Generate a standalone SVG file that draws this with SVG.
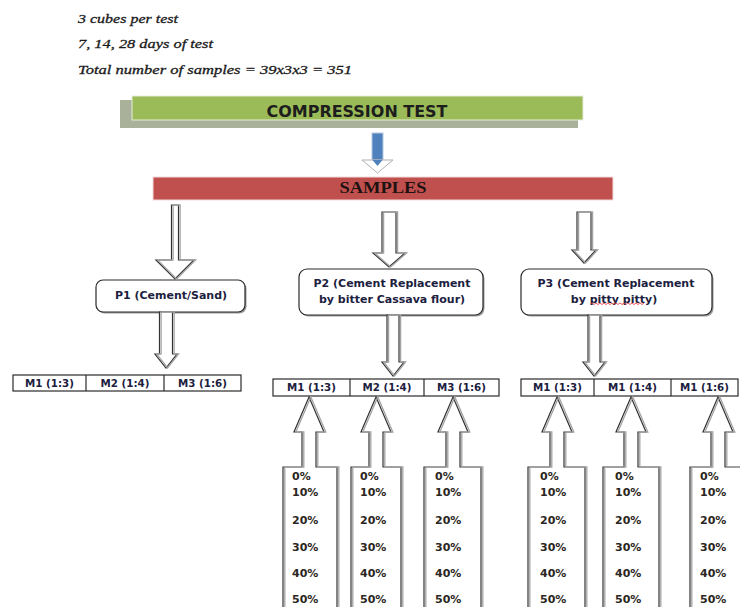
<svg xmlns="http://www.w3.org/2000/svg" xmlns:xlink="http://www.w3.org/1999/xlink" width="740" height="607" viewBox="0 0 740 607">
<style>
.note{font-family:"Liberation Serif","Times New Roman",serif;font-style:italic;font-size:13px;fill:#1a1a1a;stroke:#1a1a1a;stroke-width:0.3}
.sh{fill:none;stroke:#a3a3a3;stroke-width:1.3}
.ol{fill:#fff;stroke:#333;stroke-width:1.2}
.box{fill:#fff;stroke:#2a2a2a;stroke-width:1.2}
.lbl{font-family:"DejaVu Sans","Liberation Sans",sans-serif;font-weight:bold;font-size:11px;fill:#1c2140}
.mid{text-anchor:middle}
.m{font-size:10.3px}
.pct{font-family:"DejaVu Sans","Liberation Sans",sans-serif;font-weight:bold;font-size:11px;fill:#2b2622}
</style>
<defs>
<path id="d1" d="M171.5 205 V260 H156 L175 279 L194 260 H178.5 V205 Z"/>
<path id="d2" d="M382 212 V253 H373 L389 267 L405 253 H396 V212 Z"/>
<path id="d3" d="M577 212 V250 H572 L584 263 L596 250 H591 V212 Z"/>
<path id="d4" d="M159.5 312 V354 H155 L166 368 L177 354 H172.5 V312 Z"/>
<path id="d5" d="M387 315 V362 H382 L393 376 L404 362 H399 V315 Z"/>
<path id="d6" d="M588 315 V362 H583 L594 376 L605 362 H600 V315 Z"/>
<path id="u1" d="M283 612 V467 H302 V432 H294 L309 397 L324 432 H316 V467 H337 V612"/>
<path id="u2" d="M351 612 V467 H369 V432 H361 L376 397 L391 432 H383 V467 H401 V612"/>
<path id="u3" d="M424 612 V467 H446 V432 H438 L453 397 L468 432 H460 V467 H481 V612"/>
<path id="u4" d="M528 612 V467 H550 V432 H542 L557 397 L572 432 H564 V467 H585 V612"/>
<path id="u5" d="M603 612 V467 H624 V432 H616 L631 397 L646 432 H638 V467 H659 V612"/>
<path id="u6" d="M690 612 V467 H711 V432 H703 L718 397 L733 432 H725 V467 H746 V612"/>
</defs>

<g id="notes">
<text class="note" x="78" y="23" textLength="100" lengthAdjust="spacingAndGlyphs">3 cubes per test</text>
<text class="note" x="78" y="48" textLength="135" lengthAdjust="spacingAndGlyphs">7, 14, 28 days of test</text>
<text class="note" x="78" y="74" textLength="274" lengthAdjust="spacingAndGlyphs">Total number of samples = 39x3x3 = 351</text>
</g>

<g id="compression-test">
<rect x="120" y="100" width="458" height="28" fill="#a9b19a"/>
<rect x="132" y="96" width="451" height="24" fill="#9bbb59" stroke="#e6eedb" stroke-width="1"/>
<text x="357" y="116.5" text-anchor="middle" font-family="DejaVu Sans, Liberation Sans, sans-serif" font-weight="bold" font-size="15.5" fill="#1d1d1d" textLength="181" lengthAdjust="spacingAndGlyphs">COMPRESSION TEST</text>
</g>

<g id="samples">
<rect x="153" y="177" width="460" height="23" fill="#c0504d" stroke="#f2dcdb" stroke-width="1"/>
<text x="383" y="193" text-anchor="middle" font-family="Liberation Serif, Times New Roman, serif" font-weight="bold" font-size="16" fill="#1d1212" textLength="87" lengthAdjust="spacingAndGlyphs">SAMPLES</text>
</g>

<g id="p1">
<rect x="97.5" y="281.5" width="149" height="32" rx="7" fill="#9a9a9a"/>
<rect x="96" y="280" width="149" height="32" rx="7" class="box"/>
<text class="lbl mid" x="171" y="299">P1 (Cement/Sand)</text>
</g>

<g id="p2">
<rect x="300.5" y="270.5" width="184" height="46" rx="8" fill="#9a9a9a"/>
<rect x="299" y="269" width="184" height="46" rx="8" class="box"/>
<text class="lbl mid" x="392" y="287">P2 (Cement Replacement</text>
<text class="lbl mid" x="392" y="303">by bitter Cassava flour)</text>
</g>

<g id="p3">
<rect x="522.5" y="270.5" width="191" height="46" rx="8" fill="#9a9a9a"/>
<rect x="521" y="269" width="191" height="46" rx="8" class="box"/>
<text class="lbl mid" x="616" y="287">P3 (Cement Replacement</text>
<text class="lbl mid" x="614" y="303">by pitty pitty)</text>
<path d="M590 304.5 l2 -1.5 l2 1.5 l2 -1.5 l2 1.5 l2 -1.5 l2 1.5 l2 -1.5 l2 1.5 l2 -1.5 l2 1.5 l2 -1.5 l2 1.5 l2 -1.5 l2 1.5 l2 -1.5 l2 1.5 l2 -1.5 l2 1.5 l2 -1.5 l2 1.5 l2 -1.5 l2 1.5 l2 -1.5 l2 1.5 l2 -1.5 l2 1.5 l2 -1.5" fill="none" stroke="#e03030" stroke-width="0.8"/>
</g>

<g id="p1-mixes">
<rect x="13" y="375" width="228" height="16" class="box"/>
<line x1="86" y1="375" x2="86" y2="391" stroke="#2a2a2a" stroke-width="1.2"/>
<line x1="164" y1="375" x2="164" y2="391" stroke="#2a2a2a" stroke-width="1.2"/>
<text class="lbl m mid" x="49.5" y="387">M1 (1:3)</text>
<text class="lbl m mid" x="125" y="387">M2 (1:4)</text>
<text class="lbl m mid" x="202.5" y="387">M3 (1:6)</text>
</g>

<g id="p2-mixes">
<rect x="273" y="379" width="226" height="17" class="box"/>
<line x1="350" y1="379" x2="350" y2="396" stroke="#2a2a2a" stroke-width="1.2"/>
<line x1="424" y1="379" x2="424" y2="396" stroke="#2a2a2a" stroke-width="1.2"/>
<text class="lbl m mid" x="311.5" y="391">M1 (1:3)</text>
<text class="lbl m mid" x="387" y="391">M2 (1:4)</text>
<text class="lbl m mid" x="461.5" y="391">M3 (1:6)</text>
</g>

<g id="p3-mixes">
<rect x="521" y="379" width="217" height="17" class="box"/>
<line x1="594" y1="379" x2="594" y2="396" stroke="#2a2a2a" stroke-width="1.2"/>
<line x1="671" y1="379" x2="671" y2="396" stroke="#2a2a2a" stroke-width="1.2"/>
<text class="lbl m mid" x="557.5" y="391">M1 (1:3)</text>
<text class="lbl m mid" x="632.5" y="391">M1 (1:4)</text>
<text class="lbl m mid" x="704.5" y="391">M1 (1:6)</text>
</g>

<g id="connectors">
<g id="blue-arrow">
<rect x="372" y="133" width="11" height="27" fill="#4f81bd" stroke="#b3c6e0" stroke-width="1"/>
<polygon points="362,160 393,160 377.5,173" fill="#fff" stroke="#b0b0b0" stroke-width="1"/>
<polygon points="372.5,160 382.5,160 377.5,166" fill="#4f81bd"/>
</g>
<use xlink:href="#d1" class="ol"/><use xlink:href="#d1" class="sh" transform="translate(1.6,0)"/>
<use xlink:href="#d2" class="ol"/><use xlink:href="#d2" class="sh" transform="translate(1.6,0)"/>
<use xlink:href="#d3" class="ol"/><use xlink:href="#d3" class="sh" transform="translate(1.6,0)"/>
<use xlink:href="#d4" class="ol"/><use xlink:href="#d4" class="sh" transform="translate(1.6,0)"/>
<use xlink:href="#d5" class="ol"/><use xlink:href="#d5" class="sh" transform="translate(1.6,0)"/>
<use xlink:href="#d6" class="ol"/><use xlink:href="#d6" class="sh" transform="translate(1.6,0)"/>
</g>

<g id="p2-m1-levels">
<use xlink:href="#u1" class="ol"/><use xlink:href="#u1" class="sh" transform="translate(1.8,0)"/>
<text class="pct"><tspan x="292" y="480">0%</tspan><tspan x="292" y="496">10%</tspan><tspan x="292" y="524">20%</tspan><tspan x="292" y="551">30%</tspan><tspan x="292" y="577">40%</tspan><tspan x="292" y="603">50%</tspan></text>
</g>
<g id="p2-m2-levels">
<use xlink:href="#u2" class="ol"/><use xlink:href="#u2" class="sh" transform="translate(1.8,0)"/>
<text class="pct"><tspan x="360" y="480">0%</tspan><tspan x="360" y="496">10%</tspan><tspan x="360" y="524">20%</tspan><tspan x="360" y="551">30%</tspan><tspan x="360" y="577">40%</tspan><tspan x="360" y="603">50%</tspan></text>
</g>
<g id="p2-m3-levels">
<use xlink:href="#u3" class="ol"/><use xlink:href="#u3" class="sh" transform="translate(1.8,0)"/>
<text class="pct"><tspan x="435" y="480">0%</tspan><tspan x="435" y="496">10%</tspan><tspan x="435" y="524">20%</tspan><tspan x="435" y="551">30%</tspan><tspan x="435" y="577">40%</tspan><tspan x="435" y="603">50%</tspan></text>
</g>
<g id="p3-m1-levels">
<use xlink:href="#u4" class="ol"/><use xlink:href="#u4" class="sh" transform="translate(1.8,0)"/>
<text class="pct"><tspan x="540" y="480">0%</tspan><tspan x="540" y="496">10%</tspan><tspan x="540" y="524">20%</tspan><tspan x="540" y="551">30%</tspan><tspan x="540" y="577">40%</tspan><tspan x="540" y="603">50%</tspan></text>
</g>
<g id="p3-m2-levels">
<use xlink:href="#u5" class="ol"/><use xlink:href="#u5" class="sh" transform="translate(1.8,0)"/>
<text class="pct"><tspan x="615" y="480">0%</tspan><tspan x="615" y="496">10%</tspan><tspan x="615" y="524">20%</tspan><tspan x="615" y="551">30%</tspan><tspan x="615" y="577">40%</tspan><tspan x="615" y="603">50%</tspan></text>
</g>
<g id="p3-m3-levels">
<use xlink:href="#u6" class="ol"/><use xlink:href="#u6" class="sh" transform="translate(1.8,0)"/>
<text class="pct"><tspan x="700" y="480">0%</tspan><tspan x="700" y="496">10%</tspan><tspan x="700" y="524">20%</tspan><tspan x="700" y="551">30%</tspan><tspan x="700" y="577">40%</tspan><tspan x="700" y="603">50%</tspan></text>
</g>
</svg>
